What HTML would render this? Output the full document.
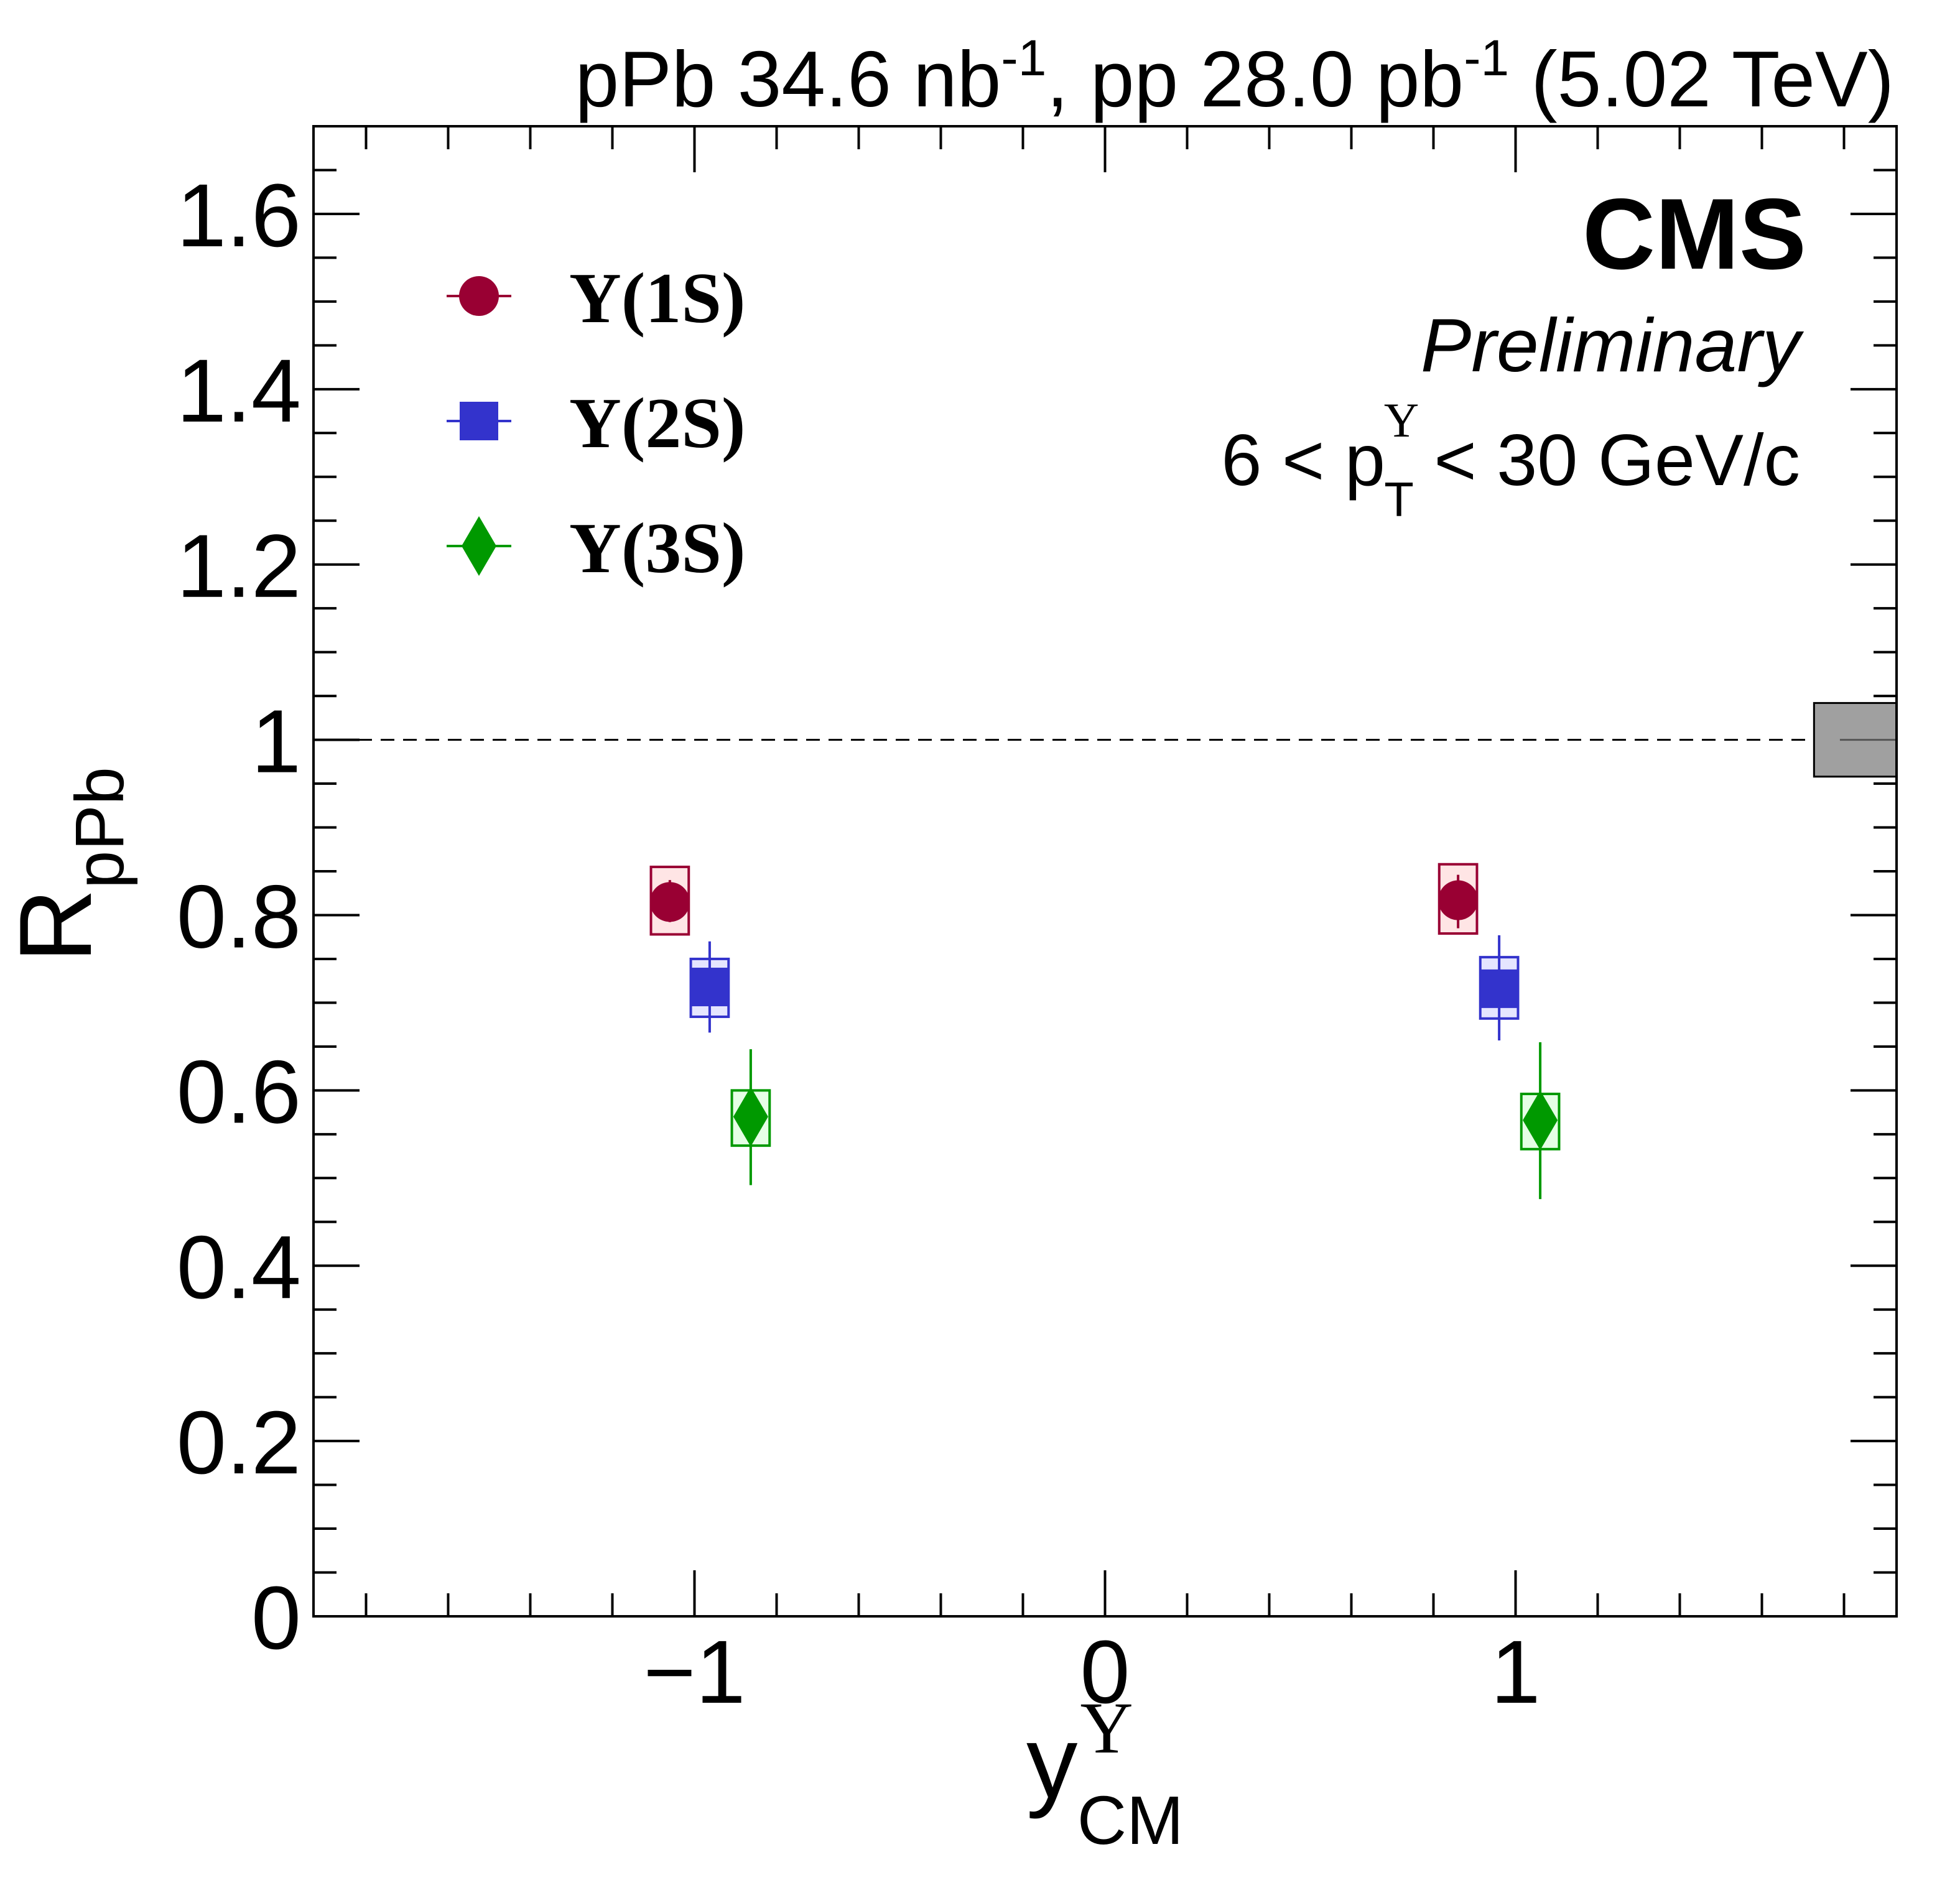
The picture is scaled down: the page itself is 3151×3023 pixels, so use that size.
<!DOCTYPE html>
<html><head><meta charset="utf-8"><style>html,body{margin:0;padding:0;background:#fff}svg{display:block}</style></head>
<body>
<svg id="chart" xmlns="http://www.w3.org/2000/svg" width="3151" height="3023" viewBox="0 0 3151 3023" font-family="Liberation Sans, sans-serif">
<rect width="3151" height="3023" fill="#fff"/>
<g id="marks"></g>
<rect x="504" y="203" width="2545" height="2396" fill="none" stroke="#000" stroke-width="4"/>
<text x="3045" y="171" font-size="127" text-anchor="end">pPb 34.6 nb<tspan dy="-50" font-size="82">-1</tspan><tspan dy="50">, pp 28.0 pb</tspan><tspan dy="-50" font-size="82">-1</tspan><tspan dy="50"> (5.02 TeV)</tspan></text>
<text x="2904" y="432" font-size="162" font-weight="bold" text-anchor="end">CMS</text>
<text x="2894" y="597" font-size="122" font-style="italic" text-anchor="end">Preliminary</text>
<text x="2894" y="780" font-size="117" text-anchor="end">6 &lt; p<tspan dx="-2" dy="-78" font-size="78" font-family="Liberation Serif, serif">Υ</tspan><tspan dx="-56" dy="128" font-size="78">T</tspan><tspan dy="-50"> &lt; 30 GeV/c</tspan></text>
<text x="1650" y="2890" font-size="165">y<tspan dx="4" dy="-72" font-size="118" font-family="Liberation Serif, serif">Υ</tspan><tspan dx="-90" dy="147" font-size="110">CM</tspan></text>
<text transform="translate(146,1548) rotate(-90)" font-size="165">R<tspan dy="52" font-size="110">pPb</tspan></text>
<g id="legend"></g>
</svg>
<script>
const categories = ['Υ(1S)','Υ(2S)','Υ(3S)'];
const colors = ['#990033','#3333cc','#009900'];
const fills = ['#ffe5e5','#e5e5ff','#e5ffe5'];
const rapidity = [[-1.06,0.86],[-0.963,0.96],[-0.863,1.06]];
const values = [[0.815,0.817],[0.718,0.716],[0.570,0.566]];
const statLo = [[0.792,0.785],[0.666,0.657],[0.492,0.476]];
const statHi = [[0.840,0.846],[0.770,0.777],[0.647,0.655]];
const sysLo = [[0.778,0.779],[0.684,0.682],[0.537,0.533]];
const sysHi = [[0.855,0.858],[0.750,0.752],[0.600,0.596]];
const globalUnc = [0.958,1.042];
const xTicks = [-1,0,1];
const xTickLabels = ['\u22121','0','1'];
const yTicks = [0,0.2,0.4,0.6,0.8,1,1.2,1.4,1.6];
const yTickLabels = ['0','0.2','0.4','0.6','0.8','1','1.2','1.4','1.6'];

const L=504,R=3049,T=203,B=2599, XMIN=-1.928, XMAX=1.928, YMIN=0, YMAX=1.7;
const X=v=>L+(v-XMIN)/(XMAX-XMIN)*(R-L);
const Y=v=>B-(v-YMIN)/(YMAX-YMIN)*(B-T);
const NS='http://www.w3.org/2000/svg';
const marks=document.getElementById('marks');
function mk(tag,attrs,parent){const e=document.createElementNS(NS,tag);for(const k in attrs)e.setAttribute(k,attrs[k]);(parent||marks).appendChild(e);return e;}

for(let v=-1.8;v<=1.81;v+=0.2){const r=Math.round(v*10)/10;const major=Math.abs(r-Math.round(r))<1e-6;const len=major?74:37;
 const t1=mk('line',{x1:X(r),x2:X(r),y1:B,y2:B-len,stroke:'#000','stroke-width':4});
 
 
 const t2=mk('line',{x1:X(r),x2:X(r),y1:T,y2:T+len,stroke:'#000','stroke-width':4});
 
 }
for(let i=0;i<=34;i++){const v=i*0.05;const major=i%4===0;const len=major?74:37;
 const t1=mk('line',{x1:L,x2:L+len,y1:Y(v),y2:Y(v),stroke:'#000','stroke-width':4});
 
 
 const t2=mk('line',{x1:R,x2:R-len,y1:Y(v),y2:Y(v),stroke:'#000','stroke-width':4});
 
 }
xTicks.forEach((v,i)=>{const t=mk('text',{x:X(v),y:2738,'font-size':144,'text-anchor':'middle'});t.textContent=xTickLabels[i];
 
 });
yTicks.forEach((v,i)=>{const t=mk('text',{x:484,y:Y(v)+52,'font-size':144,'text-anchor':'end'});t.textContent=yTickLabels[i];
 
 });

const ref=mk('line',{x1:L,x2:X(1.727),y1:Y(1),y2:Y(1),stroke:'#000','stroke-width':3,'stroke-dasharray':'22 14'});


const g=mk('rect',{x:X(1.727),y:Y(globalUnc[1]),width:R-X(1.727),height:Y(globalUnc[0])-Y(globalUnc[1]),fill:'#a0a0a0',stroke:'#000','stroke-width':3});


const gl=mk('line',{x1:X(1.79),x2:R,y1:Y(1),y2:Y(1),stroke:'#555','stroke-width':3});



function marker(s,cx,cy,parent){let e;
 if(s===0)e=mk('circle',{cx:cx,cy:cy,r:32,fill:colors[0]},parent);
 else if(s===1)e=mk('rect',{x:cx-31,y:cy-31,width:62,height:62,fill:colors[1]},parent);
 else e=mk('polygon',{points:`${cx},${cy-48} ${cx+28},${cy} ${cx},${cy+48} ${cx-28},${cy}`,fill:colors[2]},parent);
 return e;}

const HW=0.046;
categories.forEach((c,s)=>{rapidity[s].forEach((x,i)=>{
 const box=mk('rect',{x:X(x-HW),y:Y(sysHi[s][i]),width:X(x+HW)-X(x-HW),height:Y(sysLo[s][i])-Y(sysHi[s][i]),fill:fills[s],stroke:colors[s],'stroke-width':4});
 
 
 const eb=mk('line',{x1:X(x),x2:X(x),y1:Y(statHi[s][i]),y2:Y(statLo[s][i]),stroke:colors[s],'stroke-width':4});
 
 
 const m=marker(s,X(x),Y(values[s][i]));
 
 
});});

const leg=document.getElementById('legend');
categories.forEach((c,s)=>{const cy=476+s*201;
 const ln=mk('line',{x1:718,x2:822,y1:cy,y2:cy,stroke:colors[s],'stroke-width':4},leg);
 
 
 const m=marker(s,770,cy,leg);
 
 
 const t=mk('text',{x:915,y:cy+42,'font-size':116,'font-weight':'bold','font-family':'Liberation Serif, serif'},leg);
 t.textContent=c;
 
 });
</script>
</body></html>
